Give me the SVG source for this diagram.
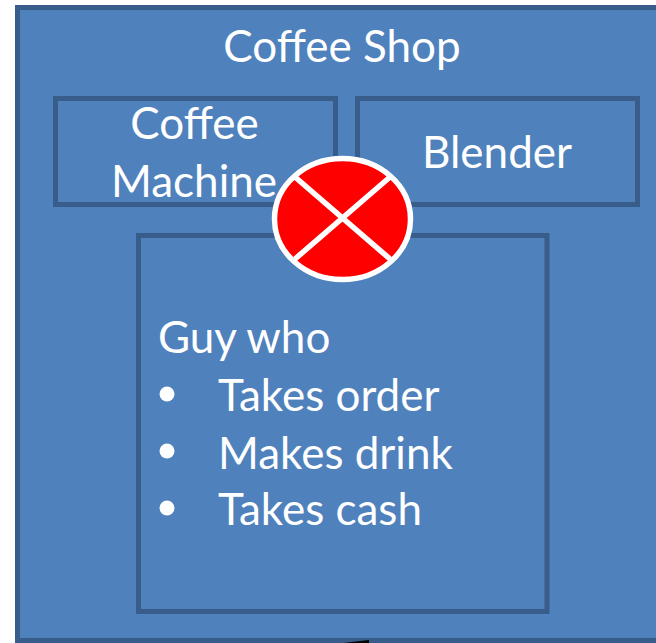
<svg xmlns="http://www.w3.org/2000/svg" width="656" height="643" viewBox="0 0 656 643">
<style>
.box{fill:#4f81bd;stroke:#385d8a;stroke-width:5}
text{font-family:"Lato","Open Sans",sans-serif;font-size:44px;fill:#fff}
.m{text-anchor:middle}
.l{stroke:#fff;stroke-width:5.500;fill:none}
</style>
<rect width="656" height="643" fill="#fff"/>
<g id="coffee-shop">
<rect class="box" x="17.500" y="7.500" width="645" height="633"/>
<text class="m" x="342" y="62">Coffee Shop</text>
</g>
<g id="coffee-machine">
<rect class="box" x="55.500" y="98.500" width="280" height="106"/>
<text class="m" x="194.500" y="139">Coffee</text>
<text class="m" x="194" y="197">Machine</text>
</g>
<g id="blender">
<rect class="box" x="357.500" y="98.500" width="280" height="106"/>
<text class="m" x="497" y="168">Blender</text>
</g>
<g id="guy">
<rect class="box" x="138.500" y="235.500" width="408.500" height="376"/>
<text x="158" y="353">Guy who</text>
<circle cx="167" cy="394" r="7.500" fill="#fff"/>
<text x="218" y="411">Takes order</text>
<circle cx="167" cy="451" r="7.500" fill="#fff"/>
<text x="218" y="469">Makes drink</text>
<circle cx="167" cy="508" r="7.500" fill="#fff"/>
<text x="218" y="525">Takes cash</text>
</g>
<g id="failure">
<ellipse cx="342.500" cy="219" rx="68" ry="60.500" fill="#f00" stroke="#fff" stroke-width="5.500"/>
<path class="l" d="M295 177L390 259M390 177L295 259"/>
</g>
<g id="connectors">
<path d="M343 643L369 640V643Z" fill="#000"/>
</g>
</svg>
